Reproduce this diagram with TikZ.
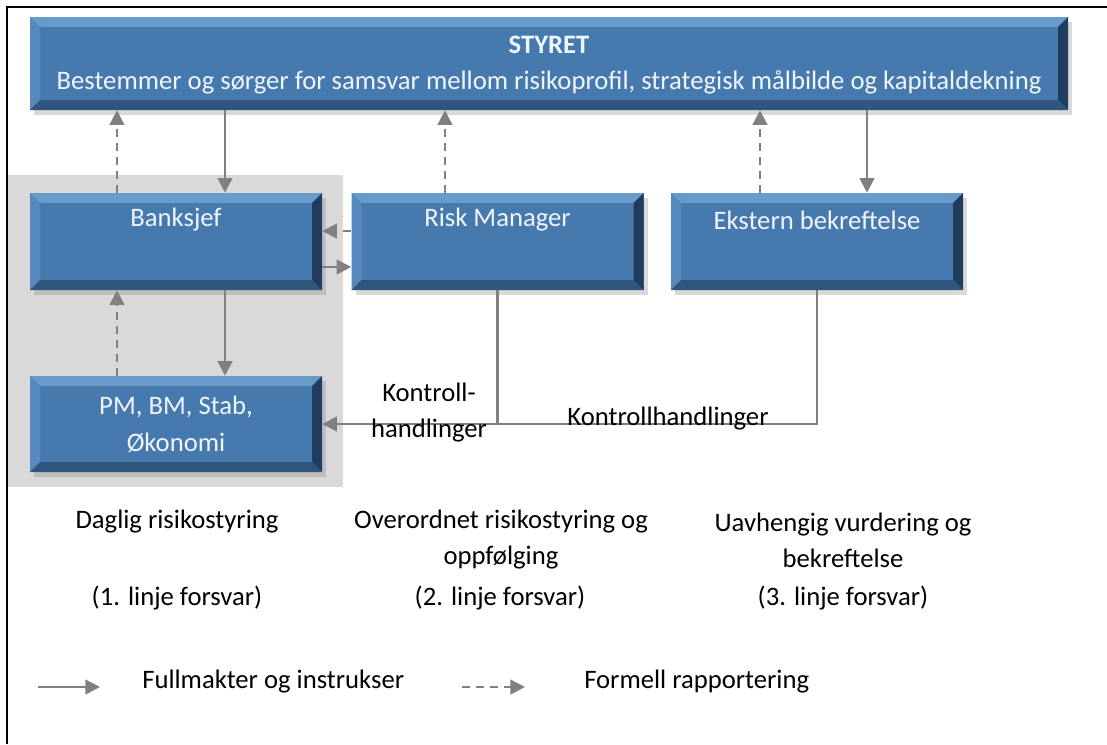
\documentclass[tikz,border=0pt]{standalone}
\usepackage{fontspec}
\setmainfont{Carlito}
\usetikzlibrary{arrows.meta,shadows}
\definecolor{boxblue}{RGB}{70,122,174}
\definecolor{bevtop}{RGB}{104,154,202}
\definecolor{bevleft}{RGB}{86,138,188}
\definecolor{bevright}{RGB}{32,60,94}
\definecolor{bevbot}{RGB}{48,86,126}
\definecolor{arrgray}{RGB}{128,128,128}
\definecolor{bggray}{RGB}{217,217,217}
\definecolor{boxtext}{RGB}{240,245,250}
\tikzset{
  bevbox/.style={rectangle, inner sep=0pt, fill=boxblue,
    drop shadow={opacity=0.3, shadow xshift=3pt, shadow yshift=-3.5pt},
    text=boxtext, align=center, font=\fontsize{20}{27.75}\selectfont,
    path picture={
      \path (path picture bounding box.north west) coordinate (pNW)
            (path picture bounding box.north east) coordinate (pNE)
            (path picture bounding box.south west) coordinate (pSW)
            (path picture bounding box.south east) coordinate (pSE);
      \fill[bevtop] (pNW) -- (pNE) -- ([shift={(-7.5pt,-7.5pt)}]pNE) -- ([shift={(7.5pt,-7.5pt)}]pNW) -- cycle;
      \fill[bevleft] (pNW) -- ([shift={(7.5pt,-7.5pt)}]pNW) -- ([shift={(7.5pt,7.5pt)}]pSW) -- (pSW) -- cycle;
      \fill[bevright] (pNE) -- (pSE) -- ([shift={(-7.5pt,7.5pt)}]pSE) -- ([shift={(-7.5pt,-7.5pt)}]pNE) -- cycle;
      \fill[bevbot] (pSW) -- ([shift={(7.5pt,7.5pt)}]pSW) -- ([shift={(-7.5pt,7.5pt)}]pSE) -- (pSE) -- cycle;
    }},
  smallbox/.style={bevbox, minimum width=219pt, minimum height=72.75pt},
  txt/.style={inner sep=0pt, font=\fontsize{20}{27}\selectfont, align=center},
  intxt/.style={txt, text=boxtext},
  ins/.style={draw=arrgray, line width=1.7pt, -{Triangle[length=11pt,width=11pt]}},
  rep/.style={ins, dash pattern=on 6pt off 4.5pt},
  plainline/.style={draw=arrgray, line width=1.7pt},
}
\begin{document}
\begin{tikzpicture}[x=0.75pt,y=-0.75pt]
\useasboundingbox (0,0) rectangle (1107,744);
% frame
\draw[line width=1.5pt] (7,744) -- (7,7) -- (1107,7);
% grey background of first line
\fill[bggray] (8,175) rectangle (343,487);

% boxes
\node[bevbox, minimum width=778.5pt, minimum height=69.75pt] (styret) at (549,63.5) {};
\node[intxt, font=\fontsize{20}{27}\bfseries] at (549,45) {STYRET};
\node[intxt] at (549,82) {Bestemmer og sørger for samsvar mellom risikoprofil, strategisk målbilde og kapitaldekning};

\node[smallbox] (bank) at (176,241.5) {};
\node[intxt] at (176,220) {Banksjef};
\node[smallbox] (risk) at (497.5,241.5) {};
\node[intxt] at (497.5,220) {Risk Manager};
\node[smallbox] (ekst) at (817,241.5) {};
\node[intxt] at (817,220) {Ekstern bekreftelse};
\node[smallbox, minimum height=72pt] (pm) at (176,424) {PM, BM, Stab,\\Økonomi};

% helper coordinates
\coordinate (u1) at (117,0);
\coordinate (d1) at (225,0);
\coordinate (u2) at (445,0);
\coordinate (u3) at (760,0);
\coordinate (d3) at (867,0);
\coordinate (h1) at (0,231);
\coordinate (h2) at (0,267);

% connectors
\draw[rep] (bank.north -| u1) -- (styret.south -| u1);
\draw[ins] (styret.south -| d1) -- (bank.north -| d1);
\draw[rep] (risk.north -| u2) -- (styret.south -| u2);
\draw[rep] (ekst.north -| u3) -- (styret.south -| u3);
\draw[ins] (styret.south -| d3) -- (ekst.north -| d3);
\draw[rep] (risk.west |- h1) -- (bank.east |- h1);
\draw[ins] (bank.east |- h2) -- (risk.west |- h2);
\draw[ins] (bank.south -| d1) -- (pm.north -| d1);
\draw[rep] (pm.north -| u1) -- (bank.south -| u1);
\draw[ins] (ekst.south) |- (pm.east);
\draw[plainline] (risk.south) -- (risk.south |- pm.east);

% labels on control lines
\node[txt] at (429,413) {Kontroll-\\handlinger};
\node[txt] at (668,419) {Kontrollhandlinger};

% line descriptions
\node[txt] at (177,522) {Daglig risikostyring};
\node[txt] at (177,598) {(1. linje forsvar)};
\node[txt] at (501,540) {Overordnet risikostyring og\\oppfølging};
\node[txt] at (500,598) {(2. linje forsvar)};
\node[txt] at (843,540) {Uavhengig vurdering og\\bekreftelse};
\node[txt] at (843,598) {(3. linje forsvar)};

% legend
\coordinate (la) at (38,687);
\coordinate (lb) at (100,687);
\coordinate (lc) at (462,687);
\coordinate (ld) at (525,687);
\draw[ins] (la) -- (lb);
\draw[rep] (lc) -- (ld);
\node[txt, anchor=west] at (142,682) {Fullmakter og instrukser};
\node[txt, anchor=west] at (584,682) {Formell rapportering};
\end{tikzpicture}
\end{document}
